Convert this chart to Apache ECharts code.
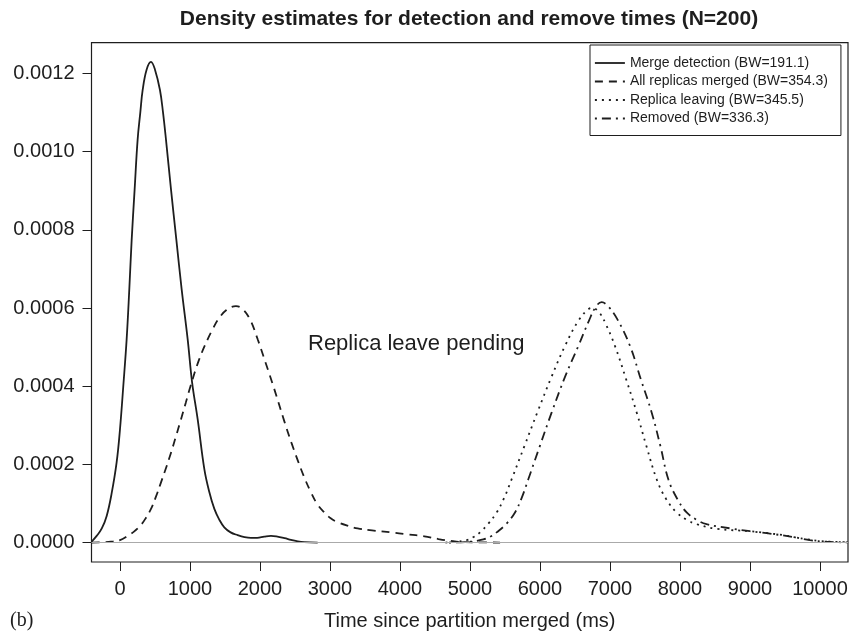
<!DOCTYPE html>
<html>
<head>
<meta charset="utf-8">
<title>Density estimates</title>
<script src="https://cdn.jsdelivr.net/npm/echarts@6/dist/echarts.min.js"></script>
<style>
  html, body { margin: 0; padding: 0; background: #fff; }
  #chart { width: 851px; height: 636px; }
</style>
</head>
<body>
<div id="chart"></div>
<script>
// series names (legend)
var seriesNames = [
  'Merge detection (BW=191.1)',
  'All replicas merged (BW=354.3)',
  'Replica leaving (BW=345.5)',
  'Removed (BW=336.3)'
];

// tick values
var xTicks = [0, 1000, 2000, 3000, 4000, 5000, 6000, 7000, 8000, 9000, 10000];
var yTicks = [0, 0.0002, 0.0004, 0.0006, 0.0008, 0.0010, 0.0012];

// [time ms, density]
var mergeDetection = [
  [-407, 0.000002], [-333, 0.000017], [-260, 0.000036], [-190, 0.000068],
  [-120, 0.000125], [-48, 0.000205], [0, 0.00029], [47, 0.0004],
  [95, 0.00052], [133, 0.000648], [167, 0.000775], [209, 0.000903],
  [252, 0.001031], [290, 0.0011], [324, 0.001158], [380, 0.00121],
  [443, 0.00123], [500, 0.00121], [571, 0.001158], [615, 0.0011],
  [657, 0.001031], [729, 0.000903], [805, 0.000775], [881, 0.000648],
  [967, 0.00052], [1030, 0.00041], [1110, 0.000315], [1205, 0.000188],
  [1275, 0.00013], [1348, 0.000086], [1420, 0.000058], [1490, 0.000039],
  [1580, 0.000026], [1681, 0.000019], [1780, 0.000014], [1871, 0.000012],
  [1960, 0.000012], [2060, 0.000015], [2157, 0.000017], [2250, 0.000015],
  [2350, 0.000011], [2443, 0.000007], [2540, 0.000003], [2633, 0.000001],
  [2824, 0]
];

var allMerged = [
  [-407, 0], [-250, 0.000001], [-129, 0.000002], [0, 0.000006],
  [110, 0.000017], [200, 0.000028], [300, 0.000045], [370, 0.000063],
  [443, 0.000086], [515, 0.000118], [586, 0.000154], [660, 0.000192],
  [729, 0.00023], [800, 0.000272], [871, 0.000315], [940, 0.000358],
  [1007, 0.0004], [1130, 0.000468], [1252, 0.00052], [1330, 0.000548],
  [1395, 0.000569], [1520, 0.000595], [1657, 0.000605], [1760, 0.000596],
  [1862, 0.000569], [1967, 0.00052], [2080, 0.00046], [2200, 0.000395],
  [2348, 0.00031], [2450, 0.000255], [2538, 0.000211], [2630, 0.000168],
  [2729, 0.000128], [2820, 0.000098], [2919, 0.000077], [3010, 0.000062],
  [3110, 0.000052], [3250, 0.000043], [3395, 0.000036], [3600, 0.000031],
  [3871, 0.000026], [4100, 0.000021], [4348, 0.000016], [4550, 0.000009],
  [4729, 0.000004], [4900, 0.000001], [5100, 0.0000005], [5430, 0]
];

var replicaLeaving = [
  [4650, 0], [4800, 0.000002], [4952, 0.000006], [5050, 0.000014],
  [5143, 0.000026], [5260, 0.000048], [5381, 0.000077], [5490, 0.000115],
  [5595, 0.000162], [5780, 0.000248], [5962, 0.000333], [6160, 0.000422],
  [6357, 0.000503], [6550, 0.000568], [6700, 0.000598], [6750, 0.0006],
  [6850, 0.000588], [6950, 0.000555], [7071, 0.000503], [7230, 0.000418],
  [7381, 0.000333], [7520, 0.000247], [7667, 0.000162], [7800, 0.000112],
  [7952, 0.000077], [8100, 0.000058], [8238, 0.000047], [8524, 0.000035],
  [9000, 0.000029], [9250, 0.000024], [9476, 0.000019], [9650, 0.000013],
  [9810, 0.0000085], [10000, 0.000004], [10190, 0.000002], [10400, 0.0000005]
];

var removed = [
  [4700, 0], [5000, 0.000002], [5190, 0.000008], [5300, 0.000016],
  [5381, 0.000026], [5520, 0.000048], [5643, 0.000077], [5740, 0.000115],
  [5833, 0.000162], [6000, 0.000248], [6167, 0.000333], [6360, 0.000425],
  [6548, 0.000503], [6700, 0.000568], [6800, 0.000604], [6881, 0.000615],
  [6970, 0.000605], [7100, 0.000573], [7286, 0.000503], [7440, 0.000418],
  [7595, 0.000333], [7720, 0.000247], [7833, 0.000162], [7960, 0.000112],
  [8095, 0.000077], [8240, 0.000058], [8381, 0.000047], [8762, 0.000035],
  [9000, 0.000029], [9238, 0.000024], [9619, 0.000014], [9857, 0.000006],
  [10100, 0.000002], [10400, 0.0000005]
];

var font = 'Liberation Sans, Arial, Helvetica, sans-serif';
var ink = '#1e1e1e';

function curve(name, data, dash) {
  return {
    name: name,
    type: 'line',
    data: data,
    smooth: 0.4,
    symbol: 'none',
    silent: true,
    lineStyle: { color: ink, width: 1.8, type: dash, cap: 'butt' },
    itemStyle: { color: ink }
  };
}

var chart = echarts.init(document.getElementById('chart'));

var series = [
  curve(seriesNames[0], mergeDetection, 'solid'),
  curve(seriesNames[1], allMerged, [8, 6]),
  curve(seriesNames[2], replicaLeaving, [2, 5]),
  curve(seriesNames[3], removed, [2, 5, 9, 5])
];
// grey zero line
series[0].markLine = {
  silent: true,
  symbol: 'none',
  label: { show: false },
  lineStyle: { color: '#aaaaaa', width: 1, type: 'solid' },
  data: [{ yAxis: 0 }]
};

var option = {
  animation: false,
  title: {
    text: 'Density estimates for detection and remove times (N=200)',
    left: 469,
    top: 9,
    padding: 0,
    textAlign: 'center',
    textStyle: { fontSize: 21, fontWeight: 'bold', color: ink, fontFamily: font }
  },
  legend: {
    orient: 'vertical',
    left: 590,
    top: 45,
    padding: [11, 13, 10, 4],
    itemWidth: 30,
    itemHeight: 14,
    itemGap: 4.5,
    borderColor: ink,
    borderWidth: 1,
    backgroundColor: '#fff',
    itemStyle: { opacity: 0 },
    lineStyle: { width: 1.8 },
    textStyle: { fontSize: 14, color: ink, fontFamily: font, lineHeight: 14 },
    data: seriesNames
  },
  grid: {
    left: 91.5,
    right: 3,
    top: 42.7,
    bottom: 73,
    show: true,
    borderColor: ink,
    borderWidth: 1.2,
    backgroundColor: '#fff'
  },
  xAxis: {
    type: 'value',
    min: -407,
    max: 10400,
    name: 'Time since partition merged (ms)',
    nameLocation: 'middle',
    nameGap: 49,
    nameTextStyle: { fontSize: 20, color: ink, fontFamily: font },
    axisLine: { show: false, onZero: false },
    splitLine: { show: false },
    axisTick: { show: true, length: 9, customValues: xTicks, lineStyle: { color: ink, width: 1 } },
    axisLabel: {
      customValues: xTicks,
      margin: 17,
      fontSize: 20,
      color: ink,
      fontFamily: font,
      formatter: function (v) { return String(v); }
    }
  },
  yAxis: {
    type: 'value',
    min: -0.0000498,
    max: 0.001279,
    axisLine: { show: false, onZero: false },
    splitLine: { show: false },
    axisTick: { show: true, length: 9, customValues: yTicks, lineStyle: { color: ink, width: 1 } },
    axisLabel: {
      customValues: yTicks,
      margin: 17,
      fontSize: 20,
      color: ink,
      fontFamily: font,
      formatter: function (v) { return v.toFixed(4); }
    }
  },
  graphic: [
    {
      type: 'text',
      left: 308,
      top: 333,
      style: { text: 'Replica leave pending', fill: ink, font: '22px ' + font }
    },
    {
      type: 'text',
      left: 10,
      top: 611,
      style: { text: '(b)', fill: ink, font: '20px Liberation Serif, Times New Roman, serif' }
    }
  ],
  series: series
};

chart.setOption(option);
</script>
</body>
</html>
